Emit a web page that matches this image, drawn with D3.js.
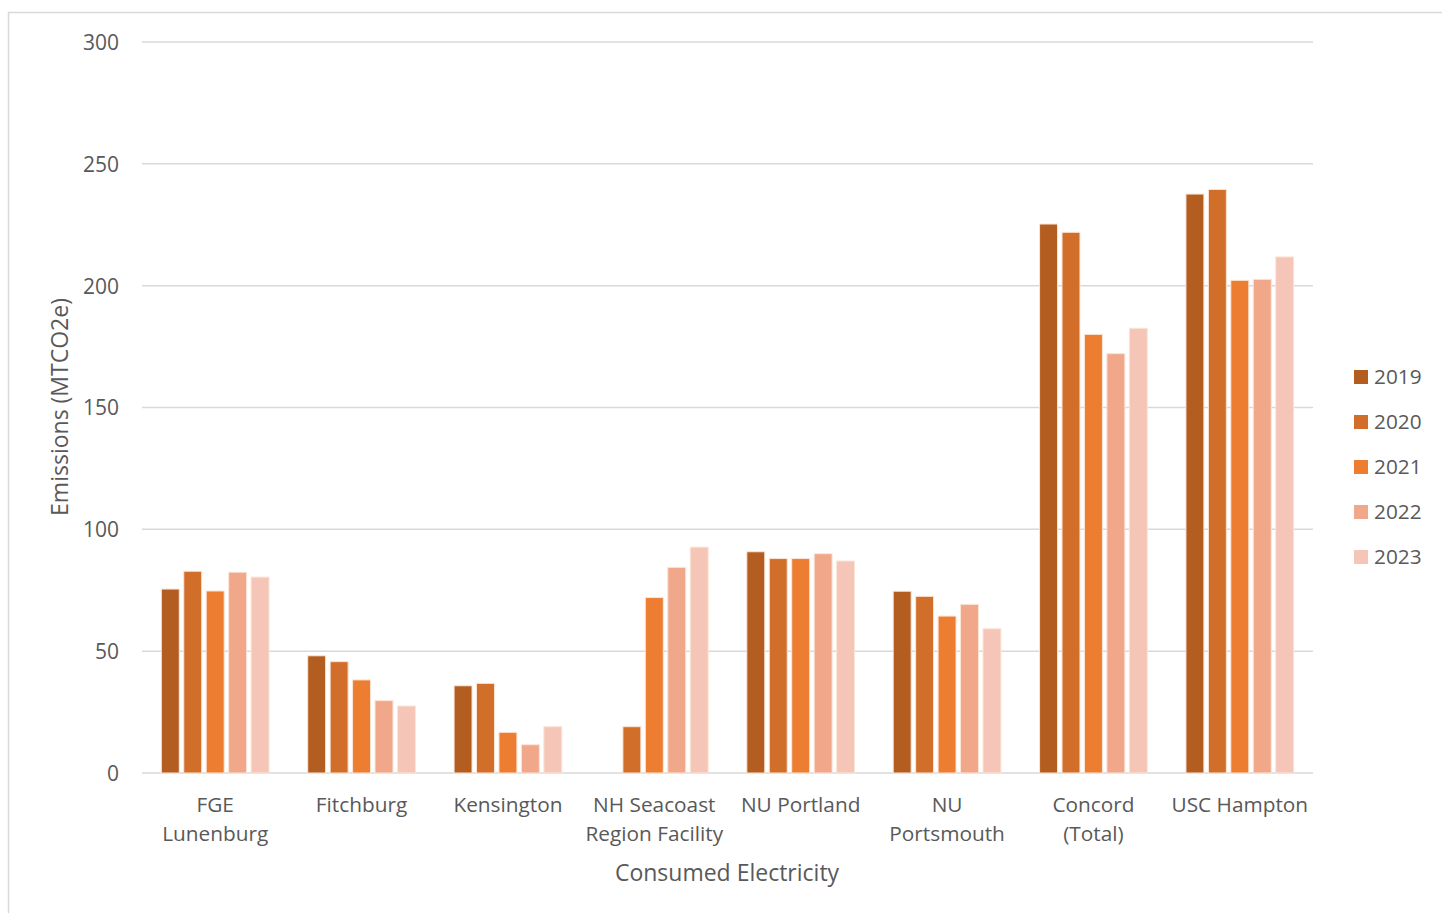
<!DOCTYPE html>
<html><head><meta charset="utf-8">
<script src="https://cdn.jsdelivr.net/npm/d3@7"></script>
<style>
html,body{margin:0;padding:0;background:#fff;}
text{font-family:"Open Sans","DejaVu Sans",sans-serif;fill:#595959;}
</style></head>
<body>
<svg id="chart" width="1442" height="913"></svg>
<script>
const categories = ["FGE\nLunenburg","Fitchburg","Kensington","NH Seacoast\nRegion Facility","NU Portland","NU\nPortsmouth","Concord\n(Total)","USC Hampton"];
const seriesNames = ["2019","2020","2021","2022","2023"];
const v2019 = [75.5, 48.1, 35.8, 0, 90.8, 74.6, 225.3, 237.6];
const v2020 = [82.8, 45.7, 36.8, 19.0, 88.0, 72.5, 221.9, 239.5];
const v2021 = [74.7, 38.2, 16.7, 72.0, 88.0, 64.4, 180.0, 202.2];
const v2022 = [82.4, 29.7, 11.6, 84.4, 90.0, 69.2, 172.1, 202.6];
const v2023 = [80.4, 27.5, 19.0, 92.7, 87.0, 59.2, 182.5, 211.8];
const seriesValues = [v2019, v2020, v2021, v2022, v2023];
const colors = ["#B45D21","#D16E2A","#ED7D31","#F0A78A","#F5C6B7"];
const yTicks = [0,50,100,150,200,250,300];
const xTitle = "Consumed Electricity";
const yTitle = "Emissions (MTCO2e)";

(function(){
const svg = d3.select("#chart");
svg.append("rect").attr("x",8.5).attr("y",12.5).attr("width",1442).attr("height",920)
  .attr("fill","none").attr("stroke","#D9D9D9").attr("stroke-width",1.5);

const pL=142, pR=1313, pT=42, pB=773;
const y = d3.scaleLinear().domain([0,300]).range([pB, pT]);
const x0 = d3.scaleBand().domain(categories).range([pL,pR]).paddingInner(0.264).paddingOuter(0.132);
const x1 = d3.scaleBand().domain(seriesNames).range([0,x0.bandwidth()]).paddingInner(0.2).paddingOuter(0);

svg.append("g").selectAll("line").data(yTicks).join("line")
  .attr("x1",pL).attr("x2",pR)
  .attr("y1",d=>y(d)).attr("y2",d=>y(d))
  .attr("stroke","#D9D9D9").attr("stroke-width",1.5);

const yAxis = d3.axisLeft(y).tickValues(yTicks).tickSize(0).tickPadding(0);
const ya = svg.append("g").attr("transform","translate(119,0)").call(yAxis);
ya.select(".domain").remove();
ya.selectAll("text").style("font-size","21px").attr("fill","#595959").attr("dy","0.35em");

const groups = svg.append("g").selectAll("g").data(categories).join("g")
  .attr("transform",c=>`translate(${x0(c)},0)`);
groups.selectAll("rect").data((c,i)=>seriesNames.map((s,j)=>({s, v:seriesValues[j][i], j})))
  .join("rect")
  .attr("x",d=>x1(d.s))
  .attr("width",x1.bandwidth())
  .attr("y",d=>y(d.v))
  .attr("height",d=>pB - y(d.v))
  .attr("fill",d=>colors[d.j])
  .attr("stroke",d=>d.v>0?"#FBE5D6":"none").attr("stroke-width",1);

const xl = svg.append("g");
categories.forEach(c=>{
  const lines = c.split("\n");
  const cx = x0(c)+x0.bandwidth()/2;
  const t = xl.append("text").attr("text-anchor","middle").style("font-size","20.8px")
    .attr("x", cx).attr("y",812);
  lines.forEach((l,i)=>t.append("tspan").attr("x",cx).attr("dy", i===0?0:29).text(l));
});

svg.append("text").attr("x",727).attr("y",881).attr("text-anchor","middle")
  .style("font-size","23px").text(xTitle);
svg.append("text").attr("transform","translate(68,407) rotate(-90)").attr("text-anchor","middle")
  .style("font-size","23px").text(yTitle);

const lg = svg.append("g").selectAll("g").data(seriesNames).join("g")
  .attr("transform",(d,i)=>`translate(1354,${377+i*45})`);
lg.append("rect").attr("x",0).attr("y",-7).attr("width",14).attr("height",14).attr("fill",(d,i)=>colors[i]);
lg.append("text").attr("x",20).attr("y",0).attr("dy","0.35em").style("font-size","20.8px").text(d=>d);
})();
</script>
</body></html>
